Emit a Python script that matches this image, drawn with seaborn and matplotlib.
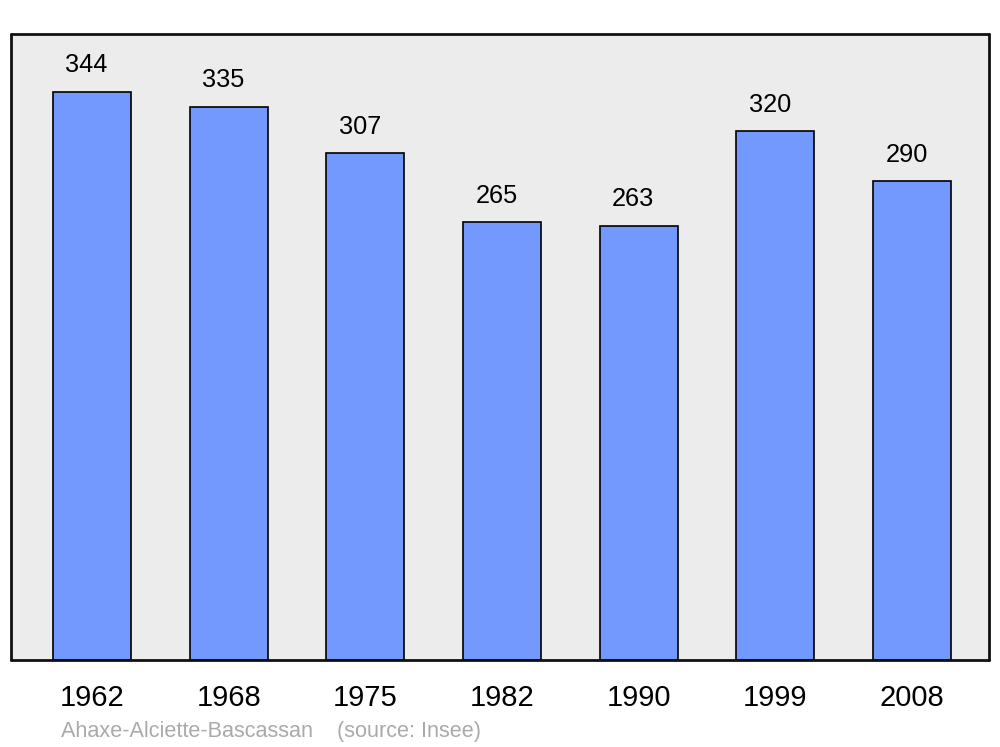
import matplotlib
matplotlib.use("Agg")
import matplotlib.pyplot as plt
import seaborn as sns
import pandas as pd

years = ["1962", "1968", "1975", "1982", "1990", "1999", "2008"]
population = [344, 335, 307, 265, 263, 320, 290]
footer = "Ahaxe-Alciette-Bascassan    (source: Insee)"

sns.set_theme(style="white")
plt.rcParams['font.family'] = ['Liberation Sans', 'DejaVu Sans']

df = pd.DataFrame({"year": years, "pop": population})

fig = plt.figure(figsize=(10, 7.47), dpi=100)
ax = fig.add_axes([11/1000, 1-660/747, 978/1000, 626/747])
ax.set_facecolor("#ececec")

sns.barplot(data=df, x="year", y="pop", color="#7399ff", saturation=1,
            width=0.57, edgecolor="black", linewidth=1.2, ax=ax)

ax.set_xlim(-0.593, 6.563)
ax.set_ylim(0, 379)
ax.set_xlabel("")
ax.set_ylabel("")
ax.set_yticks([])
ax.tick_params(axis="x", length=0, pad=17, labelsize=21, colors="black")
for s in ax.spines.values():
    s.set_linewidth(2)
    s.set_color("#111111")
    s.set_capstyle("round")
    s.set_joinstyle("round")

for i, v in enumerate(population):
    ax.annotate(str(v), xy=(i, v), xytext=(-4, 19), textcoords="offset points",
                ha="center", va="center", fontsize=18.3, color="black")

fig.text(61/1000, 1-731/747, footer, fontsize=15.6, color="#aaaaaa",
         ha="left", va="center")

fig.savefig("out.png", dpi=100)
